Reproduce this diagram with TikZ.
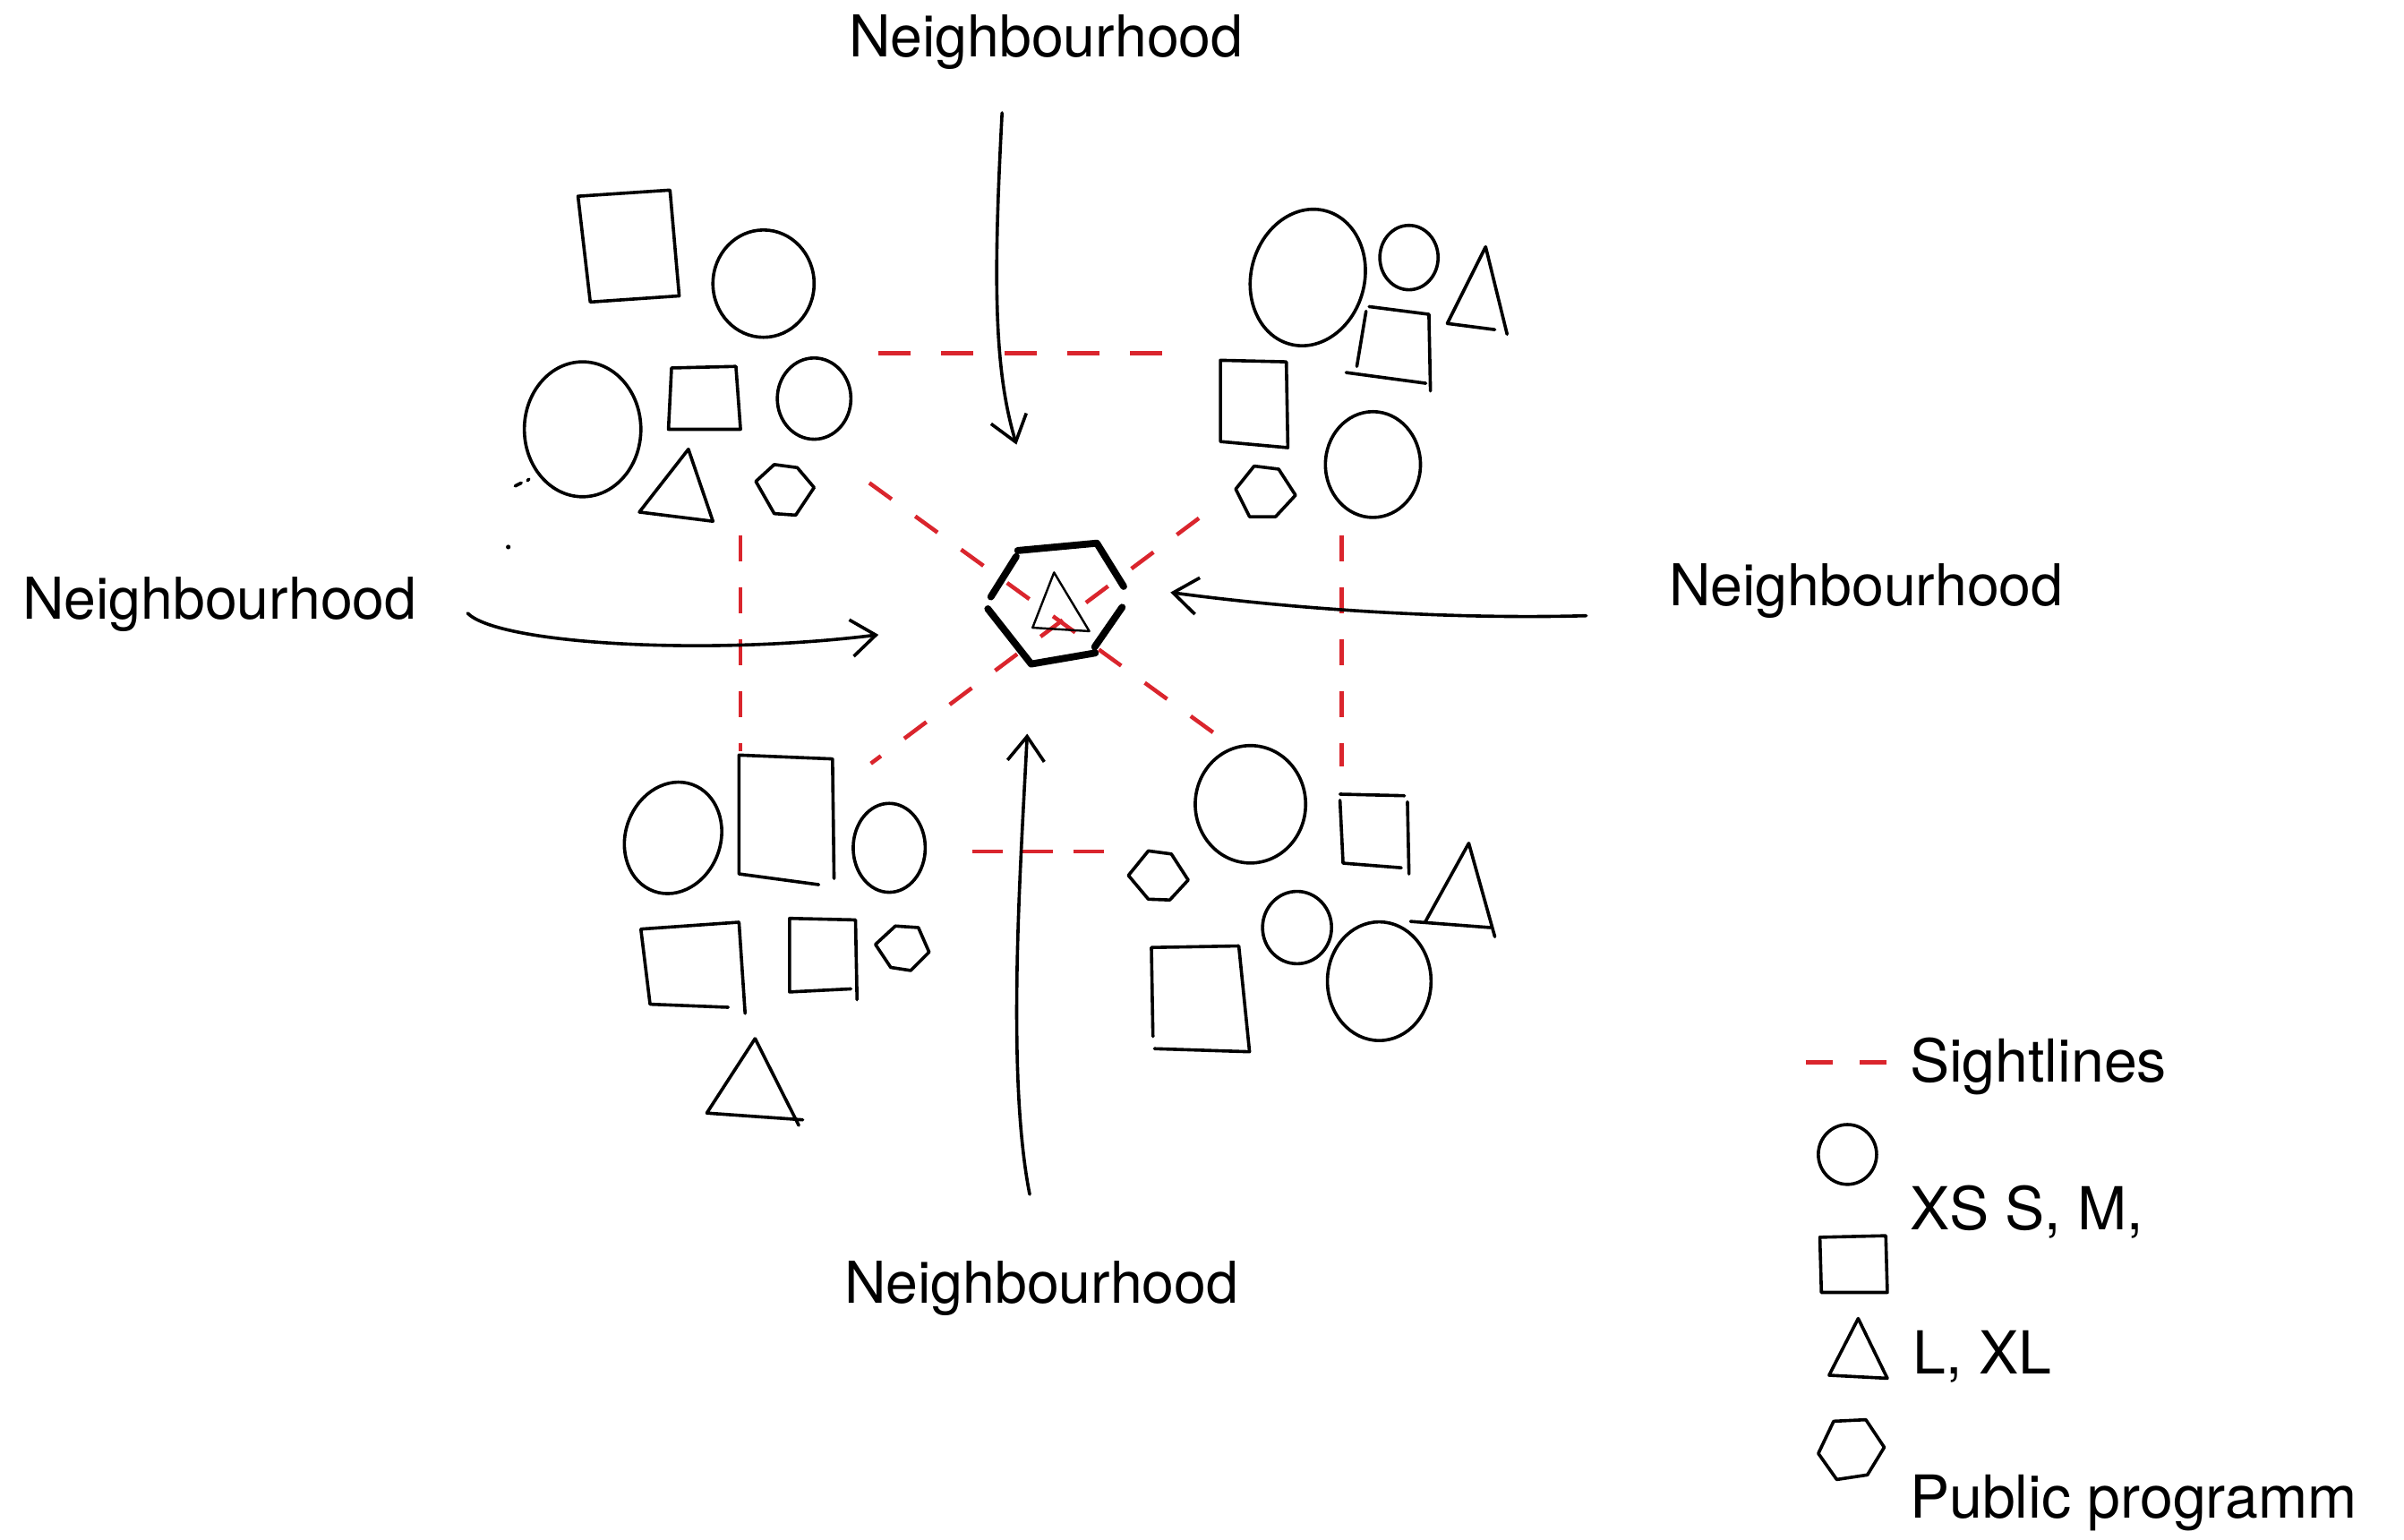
\documentclass[tikz,border=0pt]{standalone}
\usepackage{fontspec}
\setmainfont{TeX Gyre Heros}
\usetikzlibrary{arrows.meta}
\definecolor{sightred}{RGB}{218,37,45}
\tikzset{
  sk/.style={line width=.6pt},
  skbold/.style={line width=1.3pt},
  skthin/.style={line width=.4pt},
  sight/.style={sightred,line width=.75pt,line cap=butt,
    dash pattern=on 1.8mm off 1.9mm},
  hood/.style={anchor=base west,inner sep=0pt},
  legtext/.style={hood,font=\fontsize{11}{13}\selectfont},
}
\begin{document}
\begin{tikzpicture}[x=.1mm,y=-.1mm,line cap=round,line join=round,
  >={Straight Barb[length=1.6mm,width=2.4mm]},
  font=\fontsize{10.7}{12.8}\selectfont]
  \useasboundingbox (0,0) rectangle (1568,1004);
  % sightlines
  \draw[sight] (567,315)--(793,479);
  \draw[sight] (782,338)--(568,498);
  \draw[sight,dash pattern=on 2.1mm off 2mm] (573,230.5)--(760,230.5);
  \draw[sight,dash pattern=on 1.7mm off 1.7mm] (483,349)--(483,490);
  \draw[sight,dash pattern=on 1.7mm off 1.7mm] (875,349)--(875,500);
  \draw[sight,dash pattern=on 2mm off 1.3mm] (634,555.5)--(720,555.5);
  % top left
  \begin{scope}[sk]
    \draw (377,128)--(437,124)--(443,193)--(385,197)--cycle;
    \draw (498,185) ellipse [x radius=33,y radius=35];
    \draw (380,280) ellipse [x radius=38,y radius=44];
    \draw (438,240)--(480,239)--(483,280)--(436,280)--cycle;
    \draw (531,260) ellipse [x radius=24,y radius=26.5];
    \draw (449,293)--(465,340)--(417,334)--cycle;
    \draw (505,303)--(520,305)--(531,318)--(519,336)--(505,335)--(493,314)--cycle;
    \draw (336,317)--(340,315) (344,313.5)--(345,312.5);
    \fill (331.5,356.8) circle [radius=1.5];
  \end{scope}
  % top right
  \begin{scope}[sk]
    \draw[rotate around={-15:(853,181)}] (853,181) ellipse [x radius=37,y radius=45];
    \draw (919,168) ellipse [x radius=19,y radius=21];
    \draw (969,161)--(983,218) (975,215)--(944,211)--(969,161);
    \draw (893,200)--(932,205)--(933,255) (930,250)--(878,243) (885,239)--(891,203);
    \draw (796,235)--(839,236)--(840,292)--(796,288)--cycle;
    \draw (818,304)--(834,306)--(845,323)--(832,337)--(815,337)--(806,319)--cycle;
    \draw (895.5,303) ellipse [x radius=31,y radius=34.5];
  \end{scope}
  % centre
  \draw[skbold] (663.8,359.1)--(715.4,354.3)--(732.9,382.5)
    (731.9,396.1)--(714,422)
    (714.4,425.9)--(672.6,433.1)--(644.3,397.1)
    (646.3,389.3)--(662.8,363);
  \draw[skthin] (687.5,373.4)--(710.5,411.7)--(673.5,409.4)--cycle;
  % bottom left
  \begin{scope}[sk]
    \draw[rotate around={-20:(439,546.5)}] (439,546.5) ellipse [x radius=31,y radius=37];
    \draw (534,577)--(482,570)--(482,492.5)--(543,495)--(544,573);
    \draw (580,553) ellipse [x radius=23.5,y radius=29];
    \draw (418,606)--(482,601.5)--(486,661) (475,657)--(424,655)--(418,606);
    \draw (555,645)--(515,647)--(515,599)--(558,600)--(559,652);
    \draw (584,604)--(599,605)--(606,621)--(594,633)--(581,631)--(571,616)--cycle;
    \draw (492.5,677.4)--(521,734) (523.6,730.4)--(461,726)--(492.5,677.4);
  \end{scope}
  % bottom right
  \begin{scope}[sk]
    \draw (815.6,524.6) ellipse [x radius=36,y radius=38.3];
    \draw (874,518)--(916,519) (918,523)--(919,570) (914,566)--(876,563)--(874,522);
    \draw (958,550)--(975,611) (972,605)--(920,601) (929.5,601.5)--(958,550);
    \draw (749,555)--(764,557)--(775,574)--(763,587)--(749,586.5)--(736,571)--cycle;
    \draw (846,605) ellipse [x radius=22.5,y radius=23.6];
    \draw (899.6,640) ellipse [x radius=33.8,y radius=38.7];
    \draw (751,618)--(808,617)--(815,686)--(753,684) (752,676)--(751,618);
  \end{scope}
  % arrows
  \draw[sk,->] (653.6,73.6) .. controls (648,180) and (648,240) .. (663,290);
  \draw[sk,->] (305,400) .. controls (325,420) and (460,428) .. (573,414);
  \draw[sk,->] (1034.6,401.6) .. controls (950,404) and (850,398) .. (763.4,386.4);
  \draw[sk,->] (671.6,779) .. controls (656,700) and (666,560) .. (670,478.6);
  \node[hood] (nhTop) at (553,37) {Neighbourhood};
  \node[hood] (nhLeft) at (14,404) {Neighbourhood};
  \node[hood] (nhRight) at (1088,395) {Neighbourhood};
  \node[hood] (nhBottom) at (550,850) {Neighbourhood};
  % legend
  \draw[sight,dash pattern=on 1.75mm off 1.75mm] (1178,693)--(1231,693);
  \node[legtext] (lgSight) at (1245,706) {Sightlines};
  \draw[sk] (1205,753) ellipse [x radius=19,y radius=19.5];
  \node[legtext] (lgSize) at (1245,802) {XS S, M,};
  \draw[sk] (1187,807)--(1230,806)--(1231,843)--(1188,843)--cycle;
  \draw[sk] (1212,860)--(1231,899)--(1193,897)--cycle;
  \node[legtext] (lgLarge) at (1247,896) {L, XL};
  \draw[sk] (1196,927)--(1217,926)--(1229,944)--(1218,962)--(1198,965)--(1186,948)--cycle;
  \node[legtext] (lgPublic) at (1245,990) {Public programm};
\end{tikzpicture}
\end{document}
